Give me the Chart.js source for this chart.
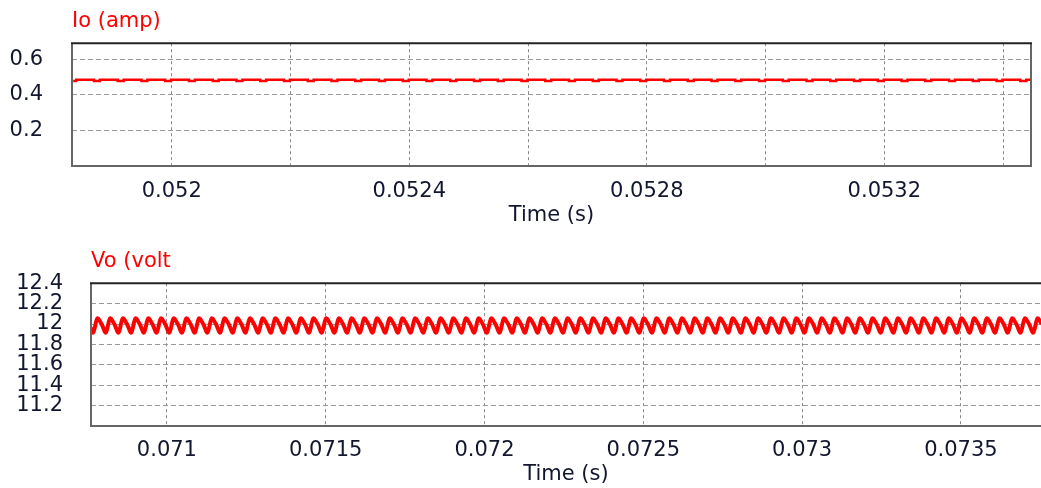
<!DOCTYPE html>
<html>
<head>
<meta charset="utf-8">
<script src="https://cdn.jsdelivr.net/npm/chart.js@4"></script>
<style>
  body { margin: 0; background: #fff; }
  canvas { display: block; }
</style>
</head>
<body>
<canvas id="ioChart" width="1041" height="240"></canvas>
<canvas id="voChart" width="1041" height="248"></canvas>
<script>
// Io (amp) : courant de sortie, echantillonne toutes les 10 us
const ioStart = 0.051834;
const ioStep = 0.00001;
const ioValues = [
  0.477, 0.484, 0.484, 0.484, 0.477, 0.484, 0.484, 0.484, 0.477, 0.484, 0.484, 0.484, 0.477, 0.484, 0.484, 0.484,
  0.477, 0.484, 0.484, 0.484, 0.477, 0.484, 0.484, 0.484, 0.477, 0.484, 0.484, 0.484, 0.477, 0.484, 0.484, 0.484,
  0.477, 0.484, 0.484, 0.484, 0.477, 0.484, 0.484, 0.484, 0.477, 0.484, 0.484, 0.484, 0.477, 0.484, 0.484, 0.484,
  0.477, 0.484, 0.484, 0.484, 0.477, 0.484, 0.484, 0.484, 0.477, 0.484, 0.484, 0.484, 0.477, 0.484, 0.484, 0.484,
  0.477, 0.484, 0.484, 0.484, 0.477, 0.484, 0.484, 0.484, 0.477, 0.484, 0.484, 0.484, 0.477, 0.484, 0.484, 0.484,
  0.477, 0.484, 0.484, 0.484, 0.477, 0.484, 0.484, 0.484, 0.477, 0.484, 0.484, 0.484, 0.477, 0.484, 0.484, 0.484,
  0.477, 0.484, 0.484, 0.484, 0.477, 0.484, 0.484, 0.484, 0.477, 0.484, 0.484, 0.484, 0.477, 0.484, 0.484, 0.484,
  0.477, 0.484, 0.484, 0.484, 0.477, 0.484, 0.484, 0.484, 0.477, 0.484, 0.484, 0.484, 0.477, 0.484, 0.484, 0.484,
  0.477, 0.484, 0.484, 0.484, 0.477, 0.484, 0.484, 0.484, 0.477, 0.484, 0.484, 0.484, 0.477, 0.484, 0.484, 0.484,
  0.477, 0.484, 0.484, 0.484, 0.477, 0.484, 0.484, 0.484, 0.477, 0.484, 0.484, 0.484, 0.477, 0.484, 0.484, 0.484,
  0.477, 0.484, 0.484
];
const ioYTicks = [0.2, 0.4, 0.6];
const ioYLabels = ['0.2', '0.4', '0.6'];
const ioXTicks = [0.052, 0.0522, 0.0524, 0.0526, 0.0528, 0.053, 0.0532, 0.0534];
const ioXLabels = ['0.052', '', '0.0524', '', '0.0528', '', '0.0532', ''];

// Vo (volt) : tension de sortie, 3 echantillons par periode de 40 us
const voStart = 0.0707277;
const voStep = 0.00004 / 3;
const voValues = [
  11.915, 12.055, 12.0, 11.915, 12.055, 12.0, 11.915, 12.055, 12.0, 11.915, 12.055, 12.0, 11.915, 12.055, 12.0,
  11.915, 12.055, 12.0, 11.915, 12.055, 12.0, 11.915, 12.055, 12.0, 11.915, 12.055, 12.0, 11.915, 12.055, 12.0,
  11.915, 12.055, 12.0, 11.915, 12.055, 12.0, 11.915, 12.055, 12.0, 11.915, 12.055, 12.0, 11.915, 12.055, 12.0,
  11.915, 12.055, 12.0, 11.915, 12.055, 12.0, 11.915, 12.055, 12.0, 11.915, 12.055, 12.0, 11.915, 12.055, 12.0,
  11.915, 12.055, 12.0, 11.915, 12.055, 12.0, 11.915, 12.055, 12.0, 11.915, 12.055, 12.0, 11.915, 12.055, 12.0,
  11.915, 12.055, 12.0, 11.915, 12.055, 12.0, 11.915, 12.055, 12.0, 11.915, 12.055, 12.0, 11.915, 12.055, 12.0,
  11.915, 12.055, 12.0, 11.915, 12.055, 12.0, 11.915, 12.055, 12.0, 11.915, 12.055, 12.0, 11.915, 12.055, 12.0,
  11.915, 12.055, 12.0, 11.915, 12.055, 12.0, 11.915, 12.055, 12.0, 11.915, 12.055, 12.0, 11.915, 12.055, 12.0,
  11.915, 12.055, 12.0, 11.915, 12.055, 12.0, 11.915, 12.055, 12.0, 11.915, 12.055, 12.0, 11.915, 12.055, 12.0,
  11.915, 12.055, 12.0, 11.915, 12.055, 12.0, 11.915, 12.055, 12.0, 11.915, 12.055, 12.0, 11.915, 12.055, 12.0,
  11.915, 12.055, 12.0, 11.915, 12.055, 12.0, 11.915, 12.055, 12.0, 11.915, 12.055, 12.0, 11.915, 12.055, 12.0,
  11.915, 12.055, 12.0, 11.915, 12.055, 12.0, 11.915, 12.055, 12.0, 11.915, 12.055, 12.0, 11.915, 12.055, 12.0,
  11.915, 12.055, 12.0, 11.915, 12.055, 12.0, 11.915, 12.055, 12.0, 11.915, 12.055, 12.0, 11.915, 12.055, 12.0,
  11.915, 12.055, 12.0, 11.915, 12.055, 12.0, 11.915, 12.055, 12.0, 11.915, 12.055, 12.0, 11.915, 12.055, 12.0,
  11.915, 12.055, 12.0, 11.915, 12.055, 12.0, 11.915, 12.055, 12.0, 11.915, 12.055, 12.0, 11.915, 12.055, 12.0,
  11.915, 12.055, 12.0
];
const voYTicks = [11.2, 11.4, 11.6, 11.8, 12, 12.2, 12.4];
const voYLabels = ['11.2', '11.4', '11.6', '11.8', '12', '12.2', '12.4'];
const voXTicks = [0.071, 0.0715, 0.072, 0.0725, 0.073, 0.0735];
const voXLabels = ['0.071', '0.0715', '0.072', '0.0725', '0.073', '0.0735'];

const police = { family: 'DejaVu Sans', size: 21, weight: 'normal' };
const encre = '#12162e';

// cadre autour de la zone de trace
const cadre = {
  id: 'cadre',
  afterDatasetsDraw(chart, args, opts) {
    const { ctx, chartArea: a } = chart;
    ctx.save();
    ctx.lineWidth = 2;
    ctx.strokeStyle = '#666';
    ctx.beginPath();
    ctx.moveTo(a.left, a.top);
    ctx.lineTo(a.left, a.bottom);
    ctx.lineTo(a.right, a.bottom);
    if (opts.right) ctx.lineTo(a.right, a.top);
    ctx.stroke();
    ctx.strokeStyle = '#222';
    ctx.beginPath();
    ctx.moveTo(a.left - 1, a.top);
    ctx.lineTo(a.right + 1, a.top);
    ctx.stroke();
    ctx.restore();
  }
};

// Courbe Io
new Chart(document.getElementById('ioChart'), {
  type: 'line',
  data: {
    datasets: [{
      data: ioValues.map((v, i) => ({ x: ioStart + i * ioStep, y: v })),
      borderColor: '#ff0000',
      borderWidth: 2.5,
      pointRadius: 0,
      stepped: 'middle'
    }]
  },
  options: {
    responsive: false,
    animation: false,
    layout: { padding: { left: 0, right: 10, top: 0, bottom: 0 } },
    plugins: {
      legend: { display: false },
      tooltip: { enabled: false },
      cadre: { right: true },
      title: {
        display: true,
        text: 'Io (amp)',
        align: 'start',
        fullSize: false,
        color: '#ff0000',
        font: police,
        padding: { top: 9, bottom: 9 }
      }
    },
    scales: {
      x: {
        type: 'linear',
        min: 0.051832,
        max: 0.053447,
        afterFit: s => { s.height = 74; },
        afterBuildTicks: s => { s.ticks = ioXTicks.map(v => ({ value: v })); },
        grid: { color: '#888', drawTicks: false },
        border: { display: false, dash: [3, 3] },
        ticks: { padding: 13, color: encre, font: police, maxRotation: 0, autoSkip: false,
                 callback: (v, i) => ioXLabels[i] },
        title: { display: true, text: 'Time (s)', color: encre, font: police,
                 padding: { top: 0, bottom: 12 } }
      },
      y: {
        min: 0,
        max: 0.69,
        afterFit: s => { s.width = 72; },
        afterBuildTicks: s => { s.ticks = ioYTicks.map(v => ({ value: v })); },
        grid: { color: '#999', drawTicks: false },
        border: { display: false, dash: [5, 3] },
        ticks: { padding: 29, color: encre, font: police, autoSkip: false,
                 callback: (v, i) => ioYLabels[i] }
      }
    }
  },
  plugins: [cadre]
});

// Courbe Vo
new Chart(document.getElementById('voChart'), {
  type: 'line',
  data: {
    datasets: [{
      data: voValues.map((v, i) => ({ x: voStart + i * voStep, y: v })),
      borderColor: '#ff0000',
      borderWidth: 4,
      pointRadius: 0,
      tension: 0.3
    }]
  },
  options: {
    responsive: false,
    animation: false,
    layout: { padding: 0 },
    plugins: {
      legend: { display: false },
      tooltip: { enabled: false },
      cadre: { right: false },
      title: {
        display: true,
        text: 'Vo (volt',
        align: 'start',
        fullSize: false,
        color: '#ff0000',
        font: police,
        padding: { top: 9, bottom: 9 }
      }
    },
    scales: {
      x: {
        type: 'linear',
        min: 0.070761,
        max: 0.073752,
        afterFit: s => { s.height = 62; },
        afterBuildTicks: s => { s.ticks = voXTicks.map(v => ({ value: v })); },
        grid: { color: '#888', drawTicks: false },
        border: { display: false, dash: [3, 3] },
        ticks: { padding: 12, color: encre, font: police, maxRotation: 0, autoSkip: false,
                 callback: (v, i) => voXLabels[i] },
        title: { display: true, text: 'Time (s)', color: encre, font: police,
                 padding: { top: 0, bottom: 1 } }
      },
      y: {
        min: 11.0,
        max: 12.4,
        afterFit: s => { s.width = 91; },
        afterBuildTicks: s => { s.ticks = voYTicks.map(v => ({ value: v })); },
        grid: { color: '#999', drawTicks: false },
        border: { display: false, dash: [5, 3] },
        ticks: { padding: 28, color: encre, font: police, autoSkip: false,
                 callback: (v, i) => voYLabels[i] }
      }
    }
  },
  plugins: [cadre]
});
</script>
</body>
</html>
